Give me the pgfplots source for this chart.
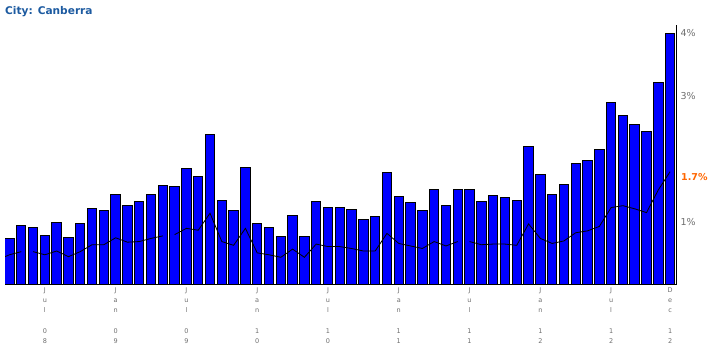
\documentclass[border=0pt]{standalone}
\usepackage{pgfplots}
\pgfplotsset{compat=1.18}
\usepackage{pgfplotstable}
\usepackage{fontspec}
\setmainfont{DejaVu Sans}
\definecolor{titleblue}{RGB}{28,90,160}
\definecolor{barblue}{RGB}{0,0,255}
\definecolor{ticklbl}{RGB}{110,110,110}
\definecolor{hiorange}{RGB}{255,102,0}

\pgfplotstableread{
i v
1 0.74
2 0.95
3 0.92
4 0.79
5 1.00
6 0.76
7 0.98
8 1.22
9 1.19
10 1.44
11 1.27
12 1.33
13 1.44
14 1.58
15 1.57
16 1.85
17 1.73
18 2.39
19 1.34
20 1.19
21 1.87
22 0.98
23 0.92
24 0.77
25 1.11
26 0.77
27 1.33
28 1.23
29 1.23
30 1.20
31 1.04
32 1.09
33 1.78
34 1.41
35 1.31
36 1.19
37 1.52
38 1.26
39 1.52
40 1.52
41 1.33
42 1.42
43 1.39
44 1.35
45 2.20
46 1.76
47 1.44
48 1.60
49 1.93
50 1.98
51 2.15
52 2.90
53 2.70
54 2.55
55 2.44
56 3.21
57 4.00
}\bars

\pgfplotstableread{
i v
0 0.40
1 0.48
2 0.53
}\lineA
\pgfplotstableread{
i v
3 0.53
4 0.48
5 0.54
6 0.45
7 0.53
8 0.64
9 0.64
10 0.75
11 0.68
12 0.69
13 0.74
14 0.78
}\lineB
\pgfplotstableread{
i v
15 0.80
16 0.90
17 0.87
18 1.14
19 0.69
20 0.63
21 0.90
22 0.51
23 0.48
24 0.44
25 0.57
26 0.44
27 0.65
28 0.61
29 0.61
30 0.58
31 0.54
32 0.54
33 0.82
34 0.66
35 0.62
36 0.58
37 0.69
38 0.62
39 0.69
}\lineC
\pgfplotstableread{
i v
40 0.69
41 0.64
42 0.65
43 0.65
44 0.63
45 0.97
46 0.74
47 0.66
48 0.70
49 0.83
50 0.86
51 0.93
52 1.23
53 1.26
54 1.21
55 1.15
56 1.51
57 1.80
}\lineD

\begin{document}
\begin{tikzpicture}
\useasboundingbox (0,0) rectangle (718pt,355pt);
\node[anchor=west, font=\fontsize{10.6}{12}\selectfont\bfseries, text=titleblue, inner sep=0pt] at (5pt,343pt) {City: Canberra};
\begin{axis}[
  at={(5pt,70pt)}, anchor=south west,
  scale only axis, width=671pt, height=260pt,
  xmin=0.62, xmax=57.5, ymin=0, ymax=4.13,
  axis x line*=bottom, axis y line*=right,
  axis line style={black, line width=1pt},
  major tick length=0pt,
  ytick={1,3,4}, yticklabels={1\%,3\%,4\%},
  yticklabel style={font=\fontsize{9.5}{11}\selectfont, text=ticklbl, xshift=1pt},
  xtick={4,10,16,22,28,34,40,46,52,57},
  xticklabels={
    {J\\u\\l\\[10pt]0\\8},
    {J\\a\\n\\[10pt]0\\9},
    {J\\u\\l\\[10pt]0\\9},
    {J\\a\\n\\[10pt]1\\0},
    {J\\u\\l\\[10pt]1\\0},
    {J\\a\\n\\[10pt]1\\1},
    {J\\u\\l\\[10pt]1\\1},
    {J\\a\\n\\[10pt]1\\2},
    {J\\u\\l\\[10pt]1\\2},
    {D\\e\\c\\[10pt]1\\2}},
  xticklabel style={font=\fontsize{6.5}{10.3}\selectfont, text=ticklbl, align=center, anchor=north, yshift=1pt},
  clip=true,
]
\addplot[ybar, bar width=0.8, fill=barblue, draw=black, line width=1pt] table[x=i,y=v] {\bars};
\addplot[black, line width=0.8pt, mark=none] table[x=i,y=v] {\lineA};
\addplot[black, line width=0.8pt, mark=none] table[x=i,y=v] {\lineB};
\addplot[black, line width=0.8pt, mark=none] table[x=i,y=v] {\lineC};
\addplot[black, line width=0.8pt, mark=none] table[x=i,y=v] {\lineD};
\end{axis}
\node[anchor=west, font=\fontsize{9.5}{11}\selectfont\bfseries, text=hiorange, inner sep=0pt] at (681pt,178pt) {1.7\%};
\end{tikzpicture}
\end{document}
